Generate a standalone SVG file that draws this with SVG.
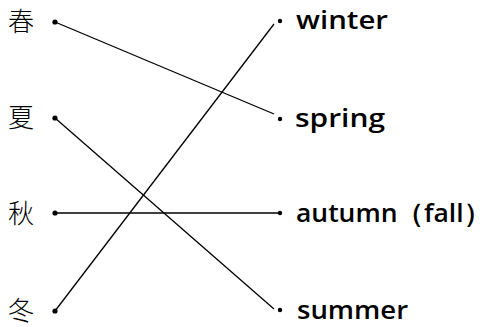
<svg xmlns="http://www.w3.org/2000/svg" width="495" height="327" viewBox="0 0 495 327">
<style>
.kj{font-family:"Noto Sans CJK JP","Noto Sans CJK SC",sans-serif;font-size:26px;font-weight:300;fill:#000}
.en{font-family:"Open Sans","DejaVu Sans",sans-serif;font-size:26px;font-weight:600;fill:#000}
.dl{fill:#000}
.cn line{stroke:#000;stroke-width:1.3}
</style>
<rect width="495" height="327" fill="#fff"/>
<g class="cn" id="connectors">
<line x1="55" y1="22" x2="274" y2="114"/>
<line x1="55" y1="118" x2="274" y2="309"/>
<line x1="55" y1="213" x2="280" y2="213"/>
<line x1="55" y1="311" x2="274" y2="24"/>
</g>
<g id="n-haru"><text class="kj" x="8" y="31">春</text><circle class="dl" cx="55" cy="22" r="2.6"/></g>
<g id="n-natsu"><text class="kj" x="8" y="127">夏</text><circle class="dl" cx="55" cy="118" r="2.6"/></g>
<g id="n-aki"><text class="kj" x="8" y="223">秋</text><circle class="dl" cx="55" cy="213" r="2.6"/></g>
<g id="n-fuyu"><text class="kj" x="8" y="320">冬</text><circle class="dl" cx="55" cy="311" r="2.6"/></g>
<g id="n-winter"><circle class="dl" cx="280" cy="21" r="2.2"/><text class="en" x="296" y="29" textLength="92" lengthAdjust="spacingAndGlyphs">winter</text></g>
<g id="n-spring"><circle class="dl" cx="280" cy="119" r="2.2"/><text class="en" x="295" y="127" textLength="90" lengthAdjust="spacingAndGlyphs">spring</text></g>
<g id="n-autumn"><circle class="dl" cx="280" cy="213" r="2.2"/><text class="en" x="296" y="222" textLength="194" lengthAdjust="spacingAndGlyphs">autumn（fall）</text></g>
<g id="n-summer"><circle class="dl" cx="280" cy="310" r="2.2"/><text class="en" x="297" y="319" textLength="111" lengthAdjust="spacingAndGlyphs">summer</text></g>
</svg>
